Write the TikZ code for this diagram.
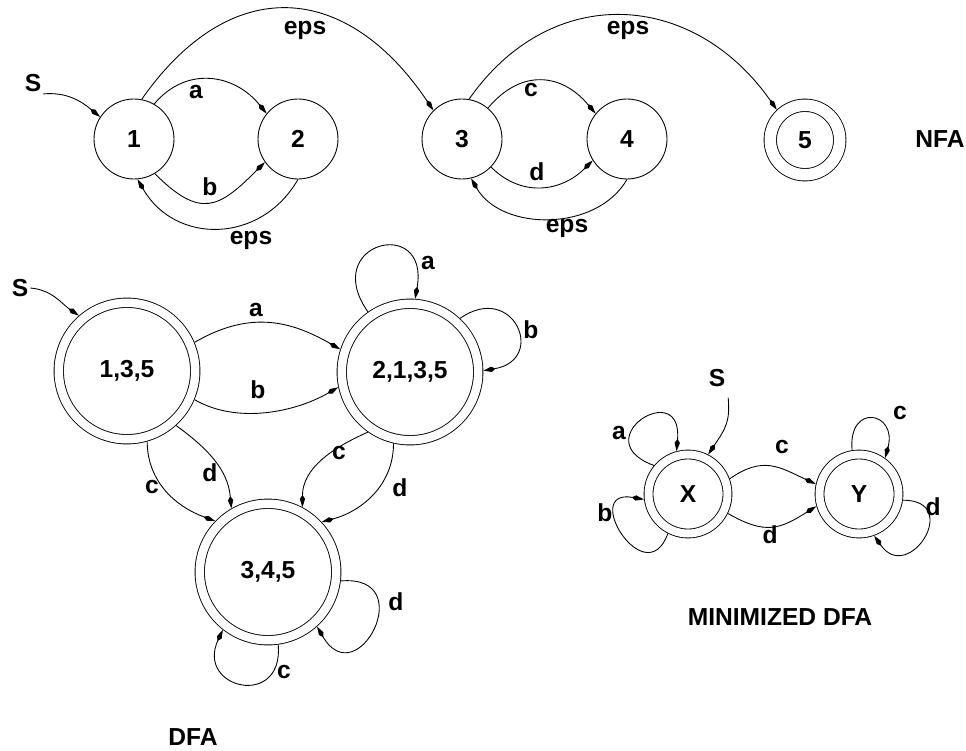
\documentclass[tikz,border=0pt]{standalone}
\usepackage{fontspec}
\setmainfont{Liberation Sans}
\usetikzlibrary{arrows.meta}

\tikzset{
  every node/.style={font=\fontsize{14}{16}\selectfont\bfseries, inner sep=1pt},
  nst/.style={circle, draw, inner sep=0pt, minimum size=1.6cm},
  fin/.style={circle, draw, inner sep=0pt, double, double distance=0.23cm, minimum size=1.39cm, outer sep=3.76pt},
  big/.style={circle, draw, inner sep=0pt, double, double distance=0.17cm, minimum size=2.73cm, outer sep=2.91pt},
  mini/.style={circle, draw, inner sep=0pt, double, double distance=0.16cm, minimum size=1.58cm, outer sep=2.77pt},
}

\begin{document}
\begin{tikzpicture}[x=0.02cm, y=0.02cm, line width=0.5pt, >={Kite[length=7pt,width=3pt,inset=2.3pt]}]
\useasboundingbox (0,0) rectangle (966,-750);
% NFA
\node [nst] (q1) at (134,-139) {1};
\node [nst] (q2) at (298,-139) {2};
\node [nst] (q3) at (462,-139) {3};
\node [nst] (q4) at (627,-139) {4};
\node [fin] (q5) at (805,-140) {5};
\node (tNFA) at (940,-139) {NFA};
\node (s1) at (33,-83) {S};
\draw [->] (s1.south east) to[out=5,in=140] (q1.147);
\draw [->] (q1.79) to[out=55,in=124,looseness=1.36] (q3.135);
\draw (305,-30) node (e13) {eps};
\draw [->] (q1.60) to[out=50,in=129,looseness=1.15] (q2.141);
\draw (196,-92) node (a12) {a};
\draw [->] (q1.-59) to[out=-45,in=225,looseness=1.5] (q2.215);
\draw (210,-187) node (b12) {b};
\draw [->] (q2.-90) to[out=-120,in=-60,looseness=1.2] (q1.-85);
\draw (251,-240) node (e21) {eps};
\draw [->] (q3.80) to[out=55,in=125,looseness=1.2] (q5.133);
\draw (628,-30) node (e35) {eps};
\draw [->] (q3.50) to[out=50,in=130,looseness=1.24] (q4.141);
\draw (531,-90) node (c34) {c};
\draw [->] (q3.-44) to[out=-45,in=-135,looseness=1.1] (q4.212);
\draw (537,-172) node (d34) {d};
\draw [->] (q4.-90) to[out=-120,in=-60,looseness=1.0] (q3.-77);
\draw (567,-228) node (e43) {eps};
% DFA
\node [big] (d135) at (127,-371) {1,3,5};
\node [big] (d2135) at (410,-372) {2,1,3,5};
\node [big] (d345) at (268,-572) {3,4,5};
\node (tDFA) at (193,-737) {DFA};
\node (s2) at (20,-288) {S};
\draw [->] (s2.east) to[out=-5,in=145] (d135.131);
\draw [->] (d135.23) to[out=30,in=150,looseness=1.07] (d2135.162);
\draw (256,-310) node (aD) {a};
\draw [->] (d135.-23) to[out=-30,in=210,looseness=0.88] (d2135.192);
\draw (258,-390) node (bD) {b};
\draw [->] (d135.-74) to[out=-90,in=160] (d345.136);
\draw (152,-487) node (cD1) {c};
\draw [->] (d135.-48) to[out=-36,in=95] (d345.120);
\draw (210,-473) node (dD1) {d};
\draw [->] (d2135.235) to[out=204,in=90] (d345.62);
\draw (339,-453) node (cD2) {c};
\draw [->] (d2135.-103) to[out=-90,in=15] (d345.43);
\draw (400,-488) node (dD2) {d};
\draw [->] (d2135.125) .. controls +(125:85) and +(80:85) .. (d2135.86);
\draw (428,-263) node (aL) {a};
\draw [->] (d2135.47) .. controls +(35:65) and +(10:65) .. (d2135.1);
\draw (531,-330) node (bL) {b};
\draw [->] (d345.-7) .. controls +(5:80) and +(-60:80) .. (d345.-48);
\draw (396,-602) node (dL) {d};
\draw [->] (d345.-82) .. controls +(-85:65) and +(245:65) .. (d345.232);
\draw (284,-672) node (cL) {c};
% MINIMIZED DFA
\node [mini] (nx) at (688,-494) {X};
\node [mini] (ny) at (859,-494) {Y};
\node (tMIN) at (780,-617) {MINIMIZED DFA};
\node (s3) at (717,-378) {S};
\draw [->, shorten <=5pt] (s3.south east) to[out=-85,in=56,looseness=1.2] (nx.63);
\draw [->] (nx.20) to[out=35,in=155,looseness=1.2] (ny.167);
\draw (782,-447) node (cXY) {c};
\draw [->] (nx.-26) to[out=-30,in=212,looseness=1.25] (ny.196);
\draw (770,-535) node (dXY) {d};
\draw [->] (nx.140) .. controls +(160:75) and +(85:75) .. (nx.105);
\draw (619,-433) node (aX) {a};
\draw [->] (nx.243) .. controls +(250:65) and +(170:65) .. (nx.187);
\draw (605,-513) node (bX) {b};
\draw [->] (ny.99) .. controls +(95:48) and +(75:48) .. (ny.54);
\draw (900,-413) node (cY) {c};
\draw [->] (ny.-8) .. controls +(0:60) and +(-55:60) .. (ny.-70);
\draw (933,-507) node (dY) {d};
\end{tikzpicture}
\end{document}
